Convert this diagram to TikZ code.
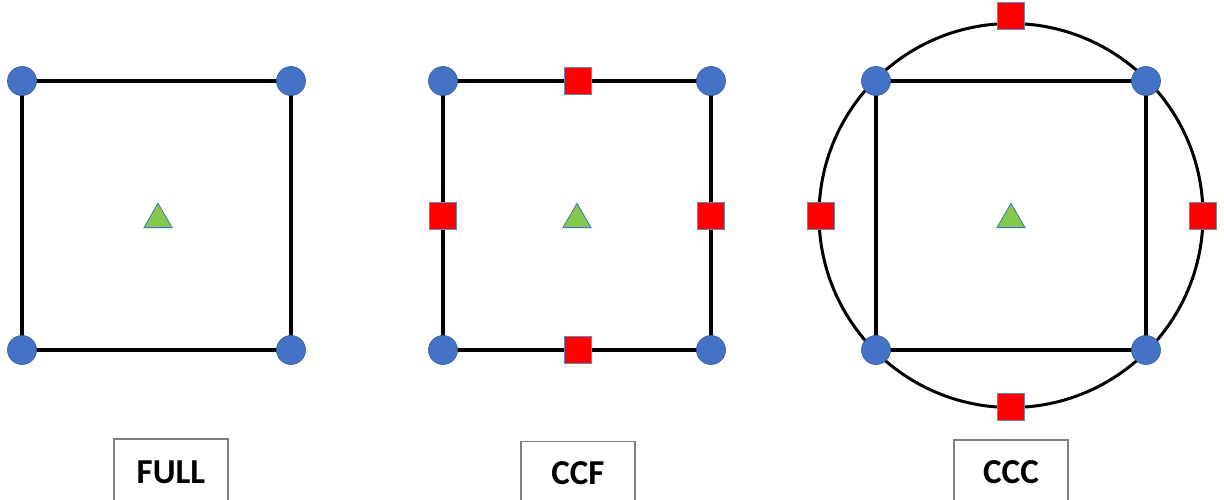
\documentclass[tikz,border=0pt]{standalone}
\usepackage{fontspec}
\setmainfont{Carlito}
\usetikzlibrary{shapes.geometric}
\definecolor{dotblue}{HTML}{4472C4}
\definecolor{edgeblue}{HTML}{2F528F}
\definecolor{trigreen}{HTML}{86C84C}
\definecolor{boxgray}{HTML}{7F7F7F}
\tikzset{
  corner/.style={circle, fill=dotblue, draw=dotblue!80!black, line width=0.6pt, minimum size=29pt, inner sep=0pt},
  mid/.style={rectangle, fill=red, draw=edgeblue!70, line width=1pt, minimum size=27pt, inner sep=0pt},
  cen/.style={regular polygon, regular polygon sides=3, fill=trigreen, draw=dotblue, line width=0.8pt, minimum size=32.5pt, inner sep=0pt},
  edge/.style={line width=3.5pt, black},
  ring/.style={line width=3pt, black},
  labelbox/.style={draw=boxgray, line width=1.5pt},
  labeltext/.style={font=\fontsize{35}{40}\selectfont\bfseries, anchor=base}
}
\begin{document}
\begin{tikzpicture}[x=1pt,y=-1pt]
\clip (0,0) rectangle (1224,500);
\fill[white] (0,0) rectangle (1224,500);
% FULL
\coordinate (a1) at (22,81); \coordinate (a2) at (291,81);
\coordinate (a3) at (291,350); \coordinate (a4) at (22,350);
\draw[edge] (a1) -- (a2) -- (a3) -- (a4) -- cycle;
\node[corner] (A1) at (a1) {}; \node[corner] (A2) at (a2) {};
\node[corner] (A3) at (a3) {}; \node[corner] (A4) at (a4) {};
\node[cen] (AT) at (158,219.5) {};
\draw[labelbox] (114,439) rectangle (228,510);
\node[labeltext] (AL) at (171,483) {FULL};
% CCF
\coordinate (b1) at (443,81); \coordinate (b2) at (711,81);
\coordinate (b3) at (711,350); \coordinate (b4) at (443,350);
\draw[edge] (b1) -- (b2) -- (b3) -- (b4) -- cycle;
\node[corner] (B1) at (b1) {}; \node[corner] (B2) at (b2) {};
\node[corner] (B3) at (b3) {}; \node[corner] (B4) at (b4) {};
\node[mid] (BM1) at (577.5,81) {}; \node[mid] (BM2) at (711,215.5) {};
\node[mid] (BM3) at (577.5,350) {}; \node[mid] (BM4) at (443,215.5) {};
\node[cen] (BT) at (577,219.5) {};
\draw[labelbox] (521,441.5) rectangle (635,510);
\node[labeltext] (BL) at (578,484) {CCF};
% CCC
\coordinate (c1) at (876,81); \coordinate (c2) at (1146,81);
\coordinate (c3) at (1146,350); \coordinate (c4) at (876,350);
\draw[ring] (1011,215.5) circle[radius=192];
\draw[edge] (c1) -- (c2) -- (c3) -- (c4) -- cycle;
\node[corner] (C1) at (c1) {}; \node[corner] (C2) at (c2) {};
\node[corner] (C3) at (c3) {}; \node[corner] (C4) at (c4) {};
\node[mid] (CM1) at (1011,16) {}; \node[mid] (CM2) at (1202.5,215.5) {};
\node[mid] (CM3) at (1011,407) {}; \node[mid] (CM4) at (821,215.5) {};
\node[cen] (CT) at (1011,219.5) {};
\draw[labelbox] (954,440) rectangle (1068,510);
\node[labeltext] (CL) at (1011,483) {CCC};
\end{tikzpicture}
\end{document}
